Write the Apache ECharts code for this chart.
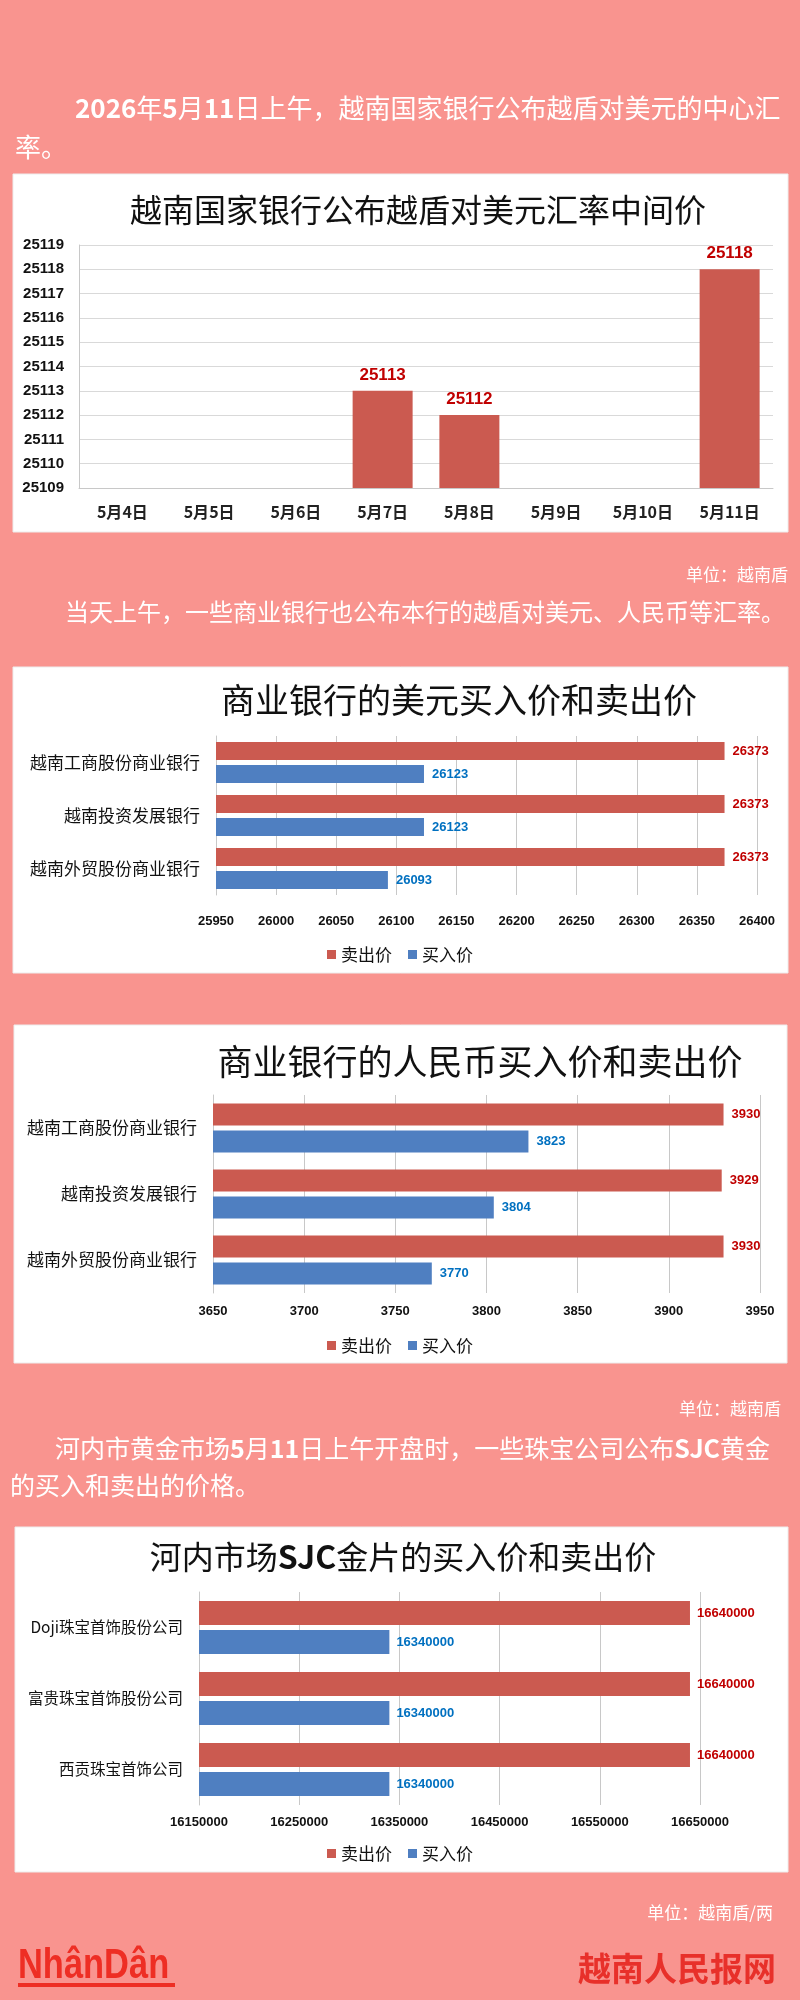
<!DOCTYPE html>
<html><head><meta charset="utf-8">
<script src="https://cdn.jsdelivr.net/npm/echarts@6/dist/echarts.min.js"></script>
<style>html,body{margin:0;padding:0;background:#F9948F}#c{width:800px;height:2000px}</style>
</head><body><div id="c"></div>
<script>
// ---- data ----
const dates = ['5月4日','5月5日','5月6日','5月7日','5月8日','5月9日','5月10日','5月11日'];
const centralRate = [null, null, null, 25113, 25112, null, null, 25118];

const usdBanks = ['越南工商股份商业银行','越南投资发展银行','越南外贸股份商业银行'];
const usdSell = [26373, 26373, 26373];
const usdBuy = [26123, 26123, 26093];

const cnyBanks = ['越南工商股份商业银行','越南投资发展银行','越南外贸股份商业银行'];
const cnySell = [3930, 3929, 3930];
const cnyBuy = [3823, 3804, 3770];

const goldCompanies = ['Doji珠宝首饰股份公司','富贵珠宝首饰股份公司','西贡珠宝首饰公司'];
const goldSell = [16640000, 16640000, 16640000];
const goldBuy = [16340000, 16340000, 16340000];
const goldTicks = [16150000, 16250000, 16350000, 16450000, 16550000, 16650000];

const seriesNames = ['卖出价', '买入价'];

// ---- styles ----
const F = '"Noto Sans CJK SC", "Noto Sans", sans-serif';
const NUM = '"Liberation Sans", Arial, sans-serif';
const RED = '#CB5A50', BLUE = '#4F7FC1';
const RED_T = '#C00000', BLUE_T = '#0070C0';
const GRIDC = '#C8C8C8';
const plain = v => String(v);

const chart = echarts.init(document.getElementById('c'), null, {renderer: 'canvas'});

function catAxis(idx, data, size) {
  return {gridIndex: idx, type: 'category', data: data, inverse: true,
    axisLine: {show: true, lineStyle: {color: GRIDC}}, axisTick: {show: false},
    axisLabel: {margin: 16, fontSize: size, color: '#111', fontFamily: F}};
}
function valAxis(idx, min, max, interval, margin) {
  return {gridIndex: idx, type: 'value', min: min, max: max, interval: interval,
    axisLine: {show: false}, axisTick: {show: false},
    splitLine: {show: true, lineStyle: {color: GRIDC, width: 1}},
    axisLabel: {margin: margin, fontSize: 13, fontWeight: 'bold', color: '#111', fontFamily: NUM,
      formatter: plain}};
}
function barSeries(name, xi, data, w, gap, color, tcolor, dist) {
  return {name: name, type: 'bar', xAxisIndex: xi, yAxisIndex: xi, data: data,
    barWidth: w, barGap: gap, itemStyle: {color: color},
    label: {show: true, position: 'right', distance: dist, color: tcolor,
      fontWeight: 'bold', fontSize: 13, fontFamily: NUM}};
}
function legend(top) {
  return {top: top, left: 'center', data: seriesNames, icon: 'rect', itemWidth: 9, itemHeight: 9,
    itemGap: 16, textStyle: {fontSize: 17, color: '#111', fontFamily: F}};
}
function txt(x, y, text, size, opts) {
  return Object.assign({type: 'text', x: x, y: y, z: 10,
    style: Object.assign({text: text, fill: '#fff', fontSize: size, fontFamily: F,
      align: 'left', verticalAlign: 'middle'}, opts || {})});
}
function panel(x, y, w, h) {
  return {type: 'rect', z: -10, shape: {x: x, y: y, width: w, height: h},
    style: {fill: '#fff', stroke: '#EDEDED', lineWidth: 1}};
}
const boldRich = (size) => ({b: {fontWeight: 'bold', fontSize: size, fill: '#fff', fontFamily: F}});

const goldX = valAxis(3, 16150000, 16650000, 100000, 11);
delete goldX.interval;
goldX.axisLabel.customValues = goldTicks;
goldX.axisTick.customValues = goldTicks;

const option = {
  backgroundColor: '#F9948F',
  animation: false,
  grid: [
    {left: 79, top: 245, width: 694, height: 243},
    {left: 216, top: 736, width: 541, height: 159},
    {left: 213, top: 1095, width: 547, height: 198},
    {left: 199, top: 1592, width: 501, height: 213}
  ],
  xAxis: [
    {gridIndex: 0, type: 'category', data: dates,
      axisLine: {show: true, lineStyle: {color: GRIDC}}, axisTick: {show: false},
      axisLabel: {margin: 16, fontSize: 16, fontWeight: 'bold', color: '#222', fontFamily: F}},
    valAxis(1, 25950, 26400, 50, 20),
    valAxis(2, 3650, 3950, 50, 12),
    goldX
  ],
  yAxis: [
    {gridIndex: 0, type: 'value', min: 25109, max: 25119, interval: 1,
      axisLine: {show: true, lineStyle: {color: GRIDC}}, axisTick: {show: false},
      splitLine: {lineStyle: {color: '#D9D9D9'}},
      axisLabel: {margin: 15, fontSize: 15, fontWeight: 'bold', color: '#111', fontFamily: NUM,
        formatter: plain}},
    catAxis(1, usdBanks, 17),
    catAxis(2, cnyBanks, 17),
    catAxis(3, goldCompanies, 15.5)
  ],
  legend: [legend(941), legend(1332), legend(1840)],
  series: [
    {type: 'bar', xAxisIndex: 0, yAxisIndex: 0, data: centralRate, barWidth: 60,
      itemStyle: {color: RED},
      label: {show: true, position: 'top', distance: 7, color: RED_T, fontWeight: 'bold',
        fontSize: 17, fontFamily: NUM}},
    barSeries(seriesNames[0], 1, usdSell, 18, '28%', RED, RED_T, 8),
    barSeries(seriesNames[1], 1, usdBuy, 18, '28%', BLUE, BLUE_T, 8),
    barSeries(seriesNames[0], 2, cnySell, 22, '23%', RED, RED_T, 8),
    barSeries(seriesNames[1], 2, cnyBuy, 22, '23%', BLUE, BLUE_T, 8),
    barSeries(seriesNames[0], 3, goldSell, 24, '21%', RED, RED_T, 7),
    barSeries(seriesNames[1], 3, goldBuy, 24, '21%', BLUE, BLUE_T, 7)
  ],
  graphic: [
    panel(13, 174, 775, 358),
    panel(13, 667, 775, 306),
    panel(14, 1025, 773, 338),
    panel(15, 1527, 773, 345),
    // paragraph 1
    txt(75, 108, '{b|2026}年{b|5}月{b|11}日上午，越南国家银行公布越盾对美元的中心汇', 26, {rich: boldRich(26)}),
    txt(15, 147, '率。', 26),
    // chart titles
    txt(418, 210, '越南国家银行公布越盾对美元汇率中间价', 32, {fill: '#111', align: 'center'}),
    txt(788, 575, '单位：越南盾', 17, {align: 'right'}),
    txt(65, 612, '当天上午，一些商业银行也公布本行的越盾对美元、人民币等汇率。', 24),
    txt(459, 700, '商业银行的美元买入价和卖出价', 34, {fill: '#111', align: 'center'}),
    txt(480, 1062, '商业银行的人民币买入价和卖出价', 35, {fill: '#111', align: 'center'}),
    txt(781, 1409, '单位：越南盾', 17, {align: 'right'}),
    txt(55, 1448, '河内市黄金市场{b|5}月{b|11}日上午开盘时，一些珠宝公司公布{b|SJC}黄金', 25, {rich: boldRich(25)}),
    txt(10, 1485, '的买入和卖出的价格。', 25),
    txt(403, 1557, '河内市场{b|SJC}金片的买入价和卖出价', 32,
      {fill: '#111', align: 'center', rich: {b: {fontWeight: 'bold', fontSize: 32, fill: '#111', fontFamily: F}}}),
    txt(773, 1913, '单位：越南盾/两', 17, {align: 'right'}),
    // footer
    {type: 'text', x: 18, y: 1966, z: 10, scaleX: 0.82,
      style: {text: 'NhânDân', fill: '#EE2E24', fontSize: 42, fontWeight: 'bold', fontFamily: NUM,
        align: 'left', verticalAlign: 'middle'}},
    {type: 'rect', z: 10, shape: {x: 18, y: 1983, width: 157, height: 4}, style: {fill: '#EE2E24'}},
    txt(776, 1968, '越南人民报网', 33, {align: 'right', fill: '#E8302A', fontWeight: 'bold'})
  ]
};
chart.setOption(option);
</script></body></html>
